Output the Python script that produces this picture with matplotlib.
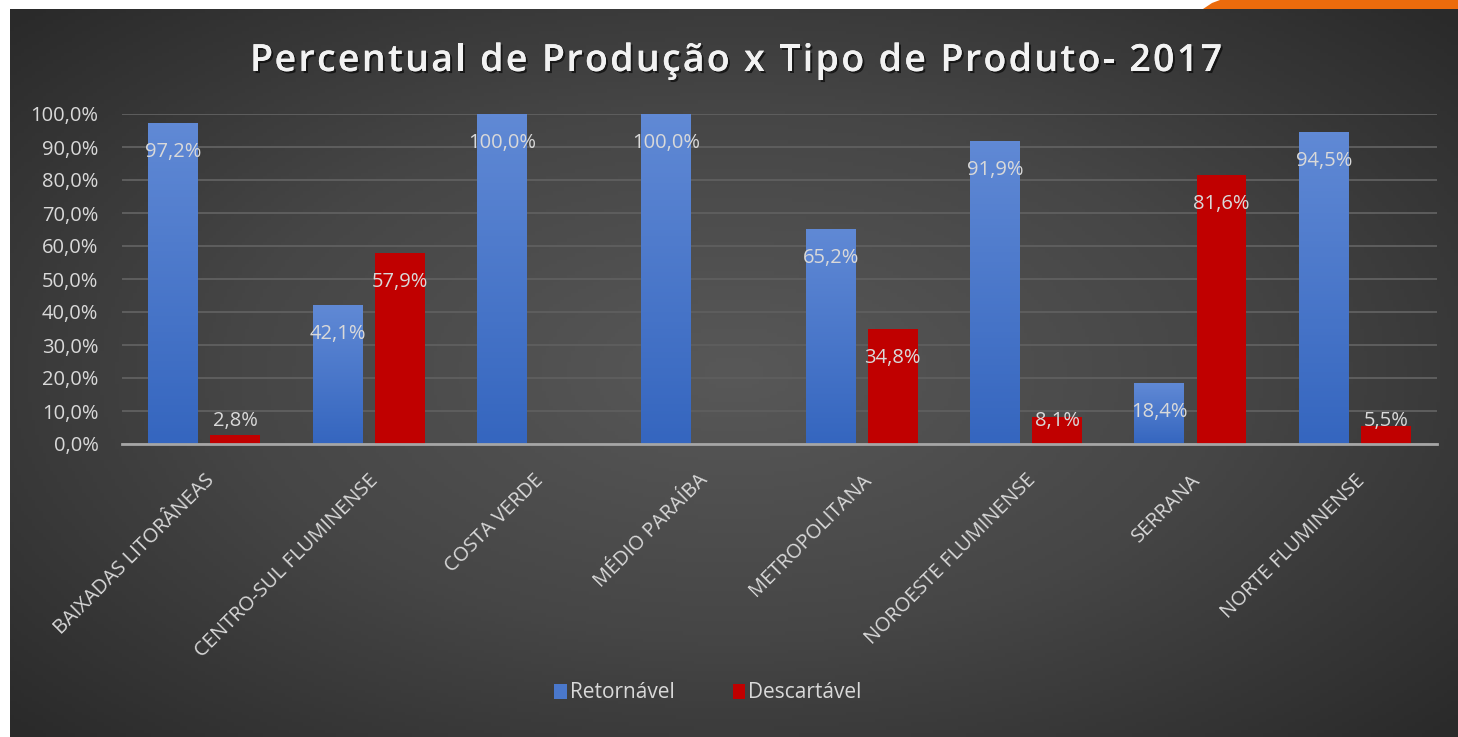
import numpy as np
import matplotlib.pyplot as plt
from matplotlib import patheffects
from matplotlib import transforms
from matplotlib.colors import LinearSegmentedColormap
from matplotlib.patches import Polygon

regioes = [
    "BAIXADAS LITORÂNEAS",
    "CENTRO-SUL FLUMINENSE",
    "COSTA VERDE",
    "MÉDIO PARAÍBA",
    "METROPOLITANA",
    "NOROESTE FLUMINENSE",
    "SERRANA",
    "NORTE FLUMINENSE",
]
retornavel = [97.2, 42.1, 100.0, 100.0, 65.2, 91.9, 18.4, 94.5]
descartavel = [2.8, 57.9, 0.0, 0.0, 34.8, 8.1, 81.6, 5.5]
y_ticks = [0, 10, 20, 30, 40, 50, 60, 70, 80, 90, 100]

titulo = "Percentual de Produção x Tipo de Produto- 2017"
W, H = 1458, 737
txt_color = "#d9d9d9"
fnt = "Open Sans"
fs = 14.5


def pct(v):
    return f"{v:.1f}%".replace(".", ",")


fig = plt.figure(figsize=(W / 100, H / 100), dpi=100)
fig.patch.set_facecolor("white")

# orange corner at the top right
corner = Polygon([(1203 / W, 1 - 9 / H), (1212 / W, 1 - 3 / H), (1220 / W, 1.0),
                  (1.0, 1.0), (1.0, 1 - 9 / H)],
                 closed=True, transform=fig.transFigure, facecolor="#ec6b0c",
                 edgecolor="none")
fig.patches.append(corner)

# dark panel with radial gradient
bg = fig.add_axes([10 / W, 0, 1 - 10 / W, 1 - 9 / H])
gx, gy = np.meshgrid(np.linspace(-1, 1, 400), np.linspace(-1, 1, 200))
r = np.sqrt((gx * 0.95) ** 2 + (gy * 0.9) ** 2)
bg_cmap = LinearSegmentedColormap.from_list("bg", ["#585858", "#464646", "#2a2a2a"])
bg.imshow(r, cmap=bg_cmap, aspect="auto", extent=[0, 1, 0, 1], vmin=0, vmax=1.3)
bg.axis("off")

ax = fig.add_axes([122 / W, 1 - 444 / H, (1437 - 122) / W, 330 / H])
ax.patch.set_alpha(0)

x = np.arange(len(regioes))
bw = 0.304
off = 0.189

blue = ax.bar(x - off, retornavel, bw, color="#4a78cc", label="Retornável", zorder=2)
red = ax.bar(x + off, descartavel, bw, color="#c00000", label="Descartável", zorder=2)

# gradient on the blue bars
blue_cmap = LinearSegmentedColormap.from_list("bl", ["#3566bf", "#6089d5"])
grad = np.linspace(0, 1, 100).reshape(-1, 1)
for rect in blue:
    x0 = rect.get_x()
    h = rect.get_height()
    im = ax.imshow(grad, cmap=blue_cmap, origin="lower", aspect="auto",
                   extent=[x0, x0 + rect.get_width(), 0, h], zorder=2.1)
    im.set_clip_path(rect)

for xs, vals in [(x - off, retornavel), (x + off, descartavel)]:
    for xi, v in zip(xs, vals):
        if v > 0:
            ax.text(xi, max(v - 8.8, 7.0), pct(v), ha="center", va="center",
                    color=txt_color, fontsize=fs, family=fnt, zorder=4)

ax.set_xlim(-0.5, len(regioes) - 0.5)
ax.set_ylim(0, 100)
ax.set_yticks(y_ticks)
ax.set_yticklabels([pct(t) for t in y_ticks], family=fnt, fontsize=fs, color=txt_color)
ax.set_xticks(x)
ax.set_xticklabels(regioes, rotation=45, ha="right", rotation_mode="anchor",
                   family=fnt, fontsize=fs, color=txt_color)
shift = transforms.ScaledTranslation(-7 / 100, 0, fig.dpi_scale_trans)
for lab in ax.get_xticklabels():
    lab.set_transform(lab.get_transform() + shift)
ax.tick_params(length=0)
ax.tick_params(axis="x", pad=19)
ax.tick_params(axis="y", pad=17)
ax.grid(axis="y", color="#5e5e5e", lw=1.4, zorder=0)
ax.set_axisbelow(True)
for s in ["top", "right", "left"]:
    ax.spines[s].set_visible(False)
ax.spines["bottom"].set_color("#a6a6a6")
ax.spines["bottom"].set_linewidth(2)
ax.spines["bottom"].set_zorder(5)

# title with wide letter spacing, drawn char by char
title_kw = dict(fontsize=27, fontweight="semibold", family=fnt, color="#f2f2f2",
                path_effects=[patheffects.withSimplePatchShadow(offset=(1.5, -1.5),
                                                                shadow_rgbFace="black", alpha=0.6),
                              patheffects.Normal()])
renderer = fig.canvas.get_renderer()


def text_w(s):
    t = fig.text(0, 0, s, **title_kw)
    w = t.get_window_extent(renderer).width
    t.remove()
    return w


base = text_w("XX")
adv = [text_w("X" + c + "X") - base for c in titulo]
target_w = 1222 - 250
spacing = (target_w - sum(adv)) / (len(titulo) - 1)
xp = 736 - target_w / 2
for c, a in zip(titulo, adv):
    fig.text(xp / W, 1 - 71 / H, c, ha="left", va="baseline", **title_kw)
    xp += a + spacing

leg = fig.legend(handles=[blue, red], loc="center", bbox_to_anchor=(708 / W, 1 - 693 / H),
                 ncol=2, frameon=False, handlelength=0.6, handleheight=0.75,
                 handletextpad=0.15, columnspacing=2.8,
                 prop={"family": fnt, "size": 15})
for t in leg.get_texts():
    t.set_color(txt_color)

fig.savefig("out.png", dpi=100)
